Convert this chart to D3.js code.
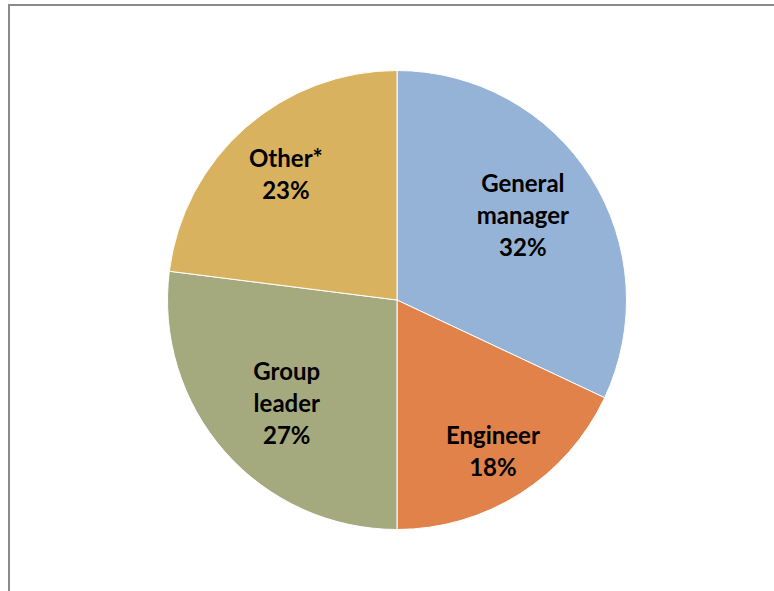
<!DOCTYPE html>
<html>
<head>
<meta charset="utf-8">
<script src="https://cdn.jsdelivr.net/npm/d3@7"></script>
<style>
  html, body { margin: 0; padding: 0; background: #fff; }
  svg { display: block; }
</style>
</head>
<body>
<svg id="chart" width="774" height="591"></svg>
<script>
// Data
const categories = ["General manager", "Engineer", "Group leader", "Other*"];
const labelLines = [["General", "manager"], ["Engineer"], ["Group", "leader"], ["Other*"]];
const values = [32, 18, 27, 23];
const colors = ["#95B3D7", "#E0824A", "#A4AA7E", "#D8B25E"];

// Layout
const W = 774, H = 591;
const cx = 397, cy = 300, R = 229.5;
const labelRadius = [152, 179, 151, 168];
const labelAngleShift = [-0.03, 0, -0.03, 0];
const lineHeight = 32;

const svg = d3.select("#chart");

// frame (top and left border)
svg.append("path")
  .attr("d", `M9,${H + 2} L9,5 L${W + 2},5`)
  .attr("fill", "none")
  .attr("stroke", "#8a8a8a")
  .attr("stroke-width", 2);

const data = categories.map((c, i) => ({ name: c, value: values[i], lines: labelLines[i], color: colors[i], i }));

const pie = d3.pie().value(d => d.value).sort(null);
const arcs = pie(data);
const arc = d3.arc().innerRadius(0).outerRadius(R);

const g = svg.append("g").attr("transform", `translate(${cx},${cy})`);

g.selectAll("path.slice")
  .data(arcs)
  .join("path")
  .attr("class", "slice")
  .attr("d", arc)
  .attr("fill", d => d.data.color)
  .attr("stroke", "#ffffff")
  .attr("stroke-width", 1);

const labels = g.selectAll("text.lbl")
  .data(arcs)
  .join("text")
  .attr("class", "lbl")
  .attr("transform", d => {
    const r = labelRadius[d.data.i];
    const a = (d.startAngle + d.endAngle) / 2 + labelAngleShift[d.data.i];
    return `translate(${r * Math.sin(a)},${-r * Math.cos(a)})`;
  })
  .attr("text-anchor", "middle")
  .attr("font-family", "Lato, 'Open Sans', sans-serif")
  .attr("font-weight", "bold")
  .attr("font-size", 24)
  .attr("fill", "#000");

labels.each(function(d) {
  const lines = d.data.lines.concat([d.data.value + "%"]);
  const n = lines.length;
  const t = d3.select(this);
  lines.forEach((ln, k) => {
    t.append("tspan")
      .attr("x", 0)
      .attr("y", (k - (n - 1) / 2) * lineHeight)
      .attr("dy", "0.38em")
      .text(ln);
  });
});
</script>
</body>
</html>
